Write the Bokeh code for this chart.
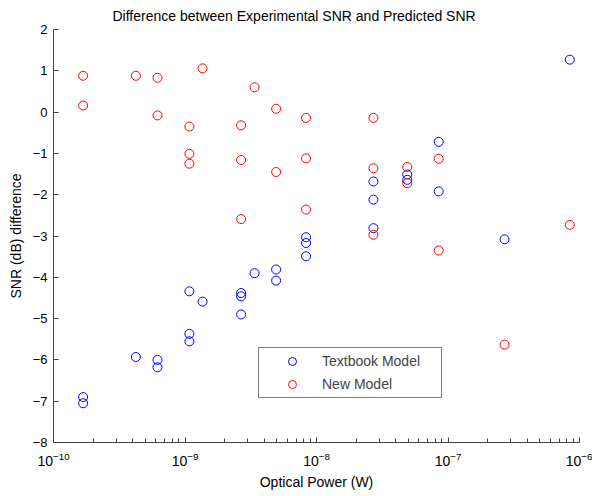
from bokeh.plotting import figure
from bokeh.models import Legend, LegendItem, FixedTicker, Range1d, LogTickFormatter
from bokeh.embed import file_html
from bokeh.resources import INLINE

# Data
textbook_x = [1.68e-10, 1.68e-10, 4.23e-10, 6.18e-10, 6.18e-10,
              1.08e-9, 1.08e-9, 1.08e-9, 1.36e-9,
              2.67e-9, 2.67e-9, 2.67e-9, 3.38e-9, 4.93e-9, 4.93e-9,
              8.33e-9, 8.33e-9, 8.33e-9, 2.71e-8, 2.71e-8, 2.71e-8,
              4.9e-8, 4.9e-8, 8.5e-8, 8.5e-8, 2.69e-7, 8.44e-7]
textbook_y = [-6.90, -7.05, -5.93, -6.00, -6.18,
              -4.34, -5.37, -5.55, -4.59,
              -4.38, -4.46, -4.90, -3.90, -3.81, -4.08,
              -3.03, -3.17, -3.49, -1.68, -2.12, -2.81,
              -1.51, -1.64, -0.72, -1.92, -3.08, 1.27]

new_x = [1.68e-10, 1.68e-10, 4.23e-10, 6.18e-10, 6.18e-10,
         1.08e-9, 1.08e-9, 1.08e-9, 1.36e-9,
         2.67e-9, 2.67e-9, 2.67e-9, 3.38e-9, 4.93e-9, 4.93e-9,
         8.33e-9, 8.33e-9, 8.33e-9, 2.71e-8, 2.71e-8, 2.71e-8,
         4.9e-8, 4.9e-8, 8.5e-8, 8.5e-8, 2.69e-7, 8.44e-7]
new_y = [0.88, 0.16, 0.88, 0.83, -0.08,
         -0.35, -1.01, -1.25, 1.06,
         -0.32, -1.16, -2.59, 0.60, 0.08, -1.45,
         -0.14, -1.12, -2.36, -0.14, -1.36, -2.97,
         -1.33, -1.72, -1.13, -3.35, -5.63, -2.73]

x_major_ticks = [1e-10, 1e-9, 1e-8, 1e-7, 1e-6]
x_minor_ticks = [m * d for d in [1e-10, 1e-9, 1e-8, 1e-7] for m in range(2, 10)]
y_ticks = [-8, -7, -6, -5, -4, -3, -2, -1, 0, 1, 2]

FONT = "Liberation Sans"
AXIS_COL = "#404040"

p = figure(width=592, height=496, x_axis_type="log",
           x_range=Range1d(1e-10, 1e-6), y_range=Range1d(-8, 2),
           output_backend="svg", toolbar_location=None,
           title="Difference between Experimental SNR and Predicted SNR",
           min_border_left=53, min_border_right=13, min_border_top=29,
           min_border_bottom=54)

p.title.align = "left"
p.title.offset = 59
p.title.text_font = FONT
p.title.text_font_size = "14px"
p.title.text_font_style = "normal"
p.title.text_color = "black"
p.title.standoff = 11

p.outline_line_color = None
p.xgrid.visible = False
p.ygrid.visible = False

r1 = p.scatter(textbook_x, textbook_y, marker="circle", size=9,
               fill_color=None, line_color="#0000ff", line_width=1)
r2 = p.scatter(new_x, new_y, marker="circle", size=9,
               fill_color=None, line_color="#ff0000", line_width=1)

xa = p.xaxis[0]
xa.ticker = FixedTicker(ticks=x_major_ticks, minor_ticks=x_minor_ticks)
xa.formatter = LogTickFormatter()
xa.axis_label = "Optical Power (W)"
ya = p.yaxis[0]
ya.ticker = FixedTicker(ticks=y_ticks)
ya.axis_label = "SNR (dB) difference"

for ax in (xa, ya):
    ax.axis_line_color = AXIS_COL
    ax.major_tick_line_color = AXIS_COL
    ax.minor_tick_line_color = AXIS_COL
    ax.major_tick_in = 5
    ax.major_tick_out = 0
    ax.minor_tick_in = 4
    ax.minor_tick_out = 0
    ax.major_label_text_font = FONT
    ax.major_label_text_font_size = "13px"
    ax.major_label_text_color = "black"
    ax.axis_label_text_font = FONT
    ax.axis_label_text_font_size = "14px"
    ax.axis_label_text_font_style = "normal"
    ax.axis_label_text_color = "black"
ya.minor_tick_line_color = None
xa.major_label_text_font_size = "14px"
xa.major_label_standoff = 9
xa.axis_label_standoff = 5
ya.major_label_standoff = 6
ya.axis_label_standoff = 6

legend = Legend(items=[LegendItem(label="Textbook Model", renderers=[r1]),
                       LegendItem(label="New Model", renderers=[r2])],
                location=(205, 44), padding=3, spacing=3,
                glyph_width=60, glyph_height=20, label_height=20,
                label_standoff=0, label_width=116, margin=0,
                border_line_color="black", border_line_width=1,
                background_fill_color="white",
                label_text_font=FONT, label_text_font_size="14px")
p.add_layout(legend, "center")

open("out.html", "w").write(file_html(p, INLINE))
